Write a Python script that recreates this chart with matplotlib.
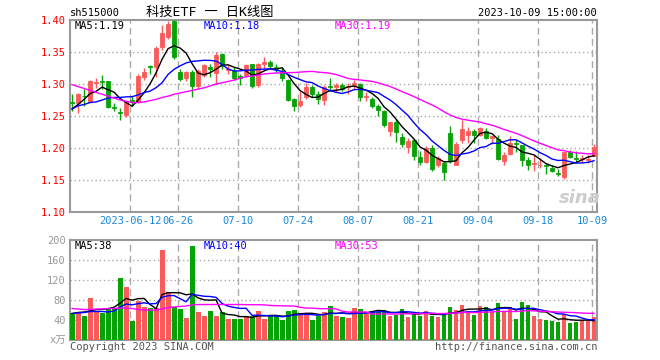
import matplotlib
matplotlib.use('Agg')
import matplotlib.pyplot as plt
import numpy as np
import pandas as pd

# daily OHLC for sh515000, 2023-05-29 .. 2023-10-09 (88 trading days)
opens = [1.272, 1.270, 1.282, 1.272, 1.302, 1.305, 1.304, 1.264, 1.256, 1.251,
         1.275, 1.272, 1.311, 1.328, 1.326, 1.358, 1.373, 1.398, 1.318, 1.309,
         1.318, 1.297, 1.314, 1.326, 1.317, 1.347, 1.322, 1.321, 1.313, 1.314,
         1.331, 1.299, 1.332, 1.334, 1.326, 1.318, 1.307, 1.276, 1.267, 1.279,
         1.296, 1.285, 1.275, 1.297, 1.296, 1.298, 1.295, 1.299, 1.300, 1.279,
         1.276, 1.266, 1.258, 1.226, 1.240, 1.217, 1.201, 1.212, 1.186, 1.178,
         1.200, 1.173, 1.176, 1.224, 1.174, 1.213, 1.221, 1.226, 1.221, 1.226,
         1.215, 1.214, 1.180, 1.190, 1.208, 1.204, 1.182, 1.175, 1.173, 1.173,
         1.169, 1.161, 1.155, 1.193, 1.184, 1.183, 1.182, 1.188]
highs = [1.284, 1.286, 1.292, 1.306, 1.310, 1.314, 1.305, 1.270, 1.262, 1.274,
         1.281, 1.315, 1.325, 1.329, 1.360, 1.392, 1.398, 1.400, 1.323, 1.320,
         1.322, 1.323, 1.331, 1.331, 1.350, 1.349, 1.330, 1.326, 1.315, 1.332,
         1.332, 1.333, 1.342, 1.337, 1.331, 1.327, 1.308, 1.278, 1.289, 1.301,
         1.298, 1.289, 1.298, 1.309, 1.301, 1.302, 1.302, 1.307, 1.301, 1.288,
         1.279, 1.268, 1.259, 1.240, 1.246, 1.224, 1.216, 1.214, 1.196, 1.203,
         1.205, 1.188, 1.180, 1.235, 1.209, 1.244, 1.233, 1.229, 1.233, 1.232,
         1.219, 1.220, 1.194, 1.218, 1.212, 1.205, 1.186, 1.190, 1.185, 1.177,
         1.174, 1.167, 1.194, 1.197, 1.195, 1.189, 1.189, 1.207]
lows = [1.258, 1.254, 1.266, 1.272, 1.294, 1.292, 1.262, 1.258, 1.243, 1.248,
        1.266, 1.270, 1.306, 1.315, 1.311, 1.353, 1.370, 1.339, 1.305, 1.305,
        1.280, 1.292, 1.311, 1.311, 1.300, 1.323, 1.315, 1.306, 1.298, 1.311,
        1.294, 1.296, 1.323, 1.325, 1.318, 1.305, 1.273, 1.258, 1.264, 1.277,
        1.279, 1.268, 1.267, 1.289, 1.288, 1.289, 1.285, 1.292, 1.274, 1.274,
        1.263, 1.250, 1.233, 1.219, 1.209, 1.202, 1.192, 1.182, 1.174, 1.176,
        1.164, 1.171, 1.150, 1.176, 1.173, 1.208, 1.208, 1.208, 1.219, 1.214,
        1.206, 1.182, 1.174, 1.189, 1.193, 1.172, 1.166, 1.164, 1.168, 1.159,
        1.162, 1.156, 1.152, 1.185, 1.178, 1.177, 1.177, 1.187]
closes = [1.270, 1.285, 1.281, 1.304, 1.303, 1.303, 1.264, 1.262, 1.255, 1.272,
          1.273, 1.312, 1.319, 1.326, 1.357, 1.380, 1.394, 1.342, 1.308, 1.318,
          1.297, 1.320, 1.329, 1.324, 1.346, 1.328, 1.323, 1.310, 1.310, 1.330,
          1.297, 1.331, 1.334, 1.328, 1.325, 1.309, 1.275, 1.266, 1.274, 1.295,
          1.285, 1.277, 1.296, 1.295, 1.298, 1.292, 1.297, 1.302, 1.280, 1.281,
          1.266, 1.259, 1.236, 1.240, 1.225, 1.207, 1.211, 1.187, 1.178, 1.200,
          1.167, 1.185, 1.162, 1.179, 1.207, 1.230, 1.226, 1.220, 1.231, 1.216,
          1.219, 1.183, 1.189, 1.208, 1.206, 1.182, 1.174, 1.176, 1.174, 1.172,
          1.164, 1.160, 1.193, 1.186, 1.183, 1.185, 1.183, 1.202]
# volume in 万
volumes = [54, 57, 49, 85, 59, 55, 65, 64, 125, 107,
           38, 79, 67, 64, 65, 180, 97, 67, 63, 45,
           189, 57, 48, 59, 48, 57, 43, 43, 43, 48,
           48, 59, 43, 48, 48, 41, 59, 61, 53, 53,
           41, 49, 57, 69, 49, 47, 45, 65, 63, 52,
           59, 57, 61, 48, 50, 63, 47, 52, 49, 59,
           49, 47, 50, 67, 61, 71, 59, 51, 69, 67,
           57, 75, 57, 67, 43, 77, 71, 49, 43, 41,
           38, 37, 53, 34, 36, 38, 38, 47]

# moving-average values before enough days are in the window
ma5_head = [1.261, 1.268, 1.276, 1.285]
ma10_head = [1.261, 1.266, 1.268, 1.271, 1.272, 1.275, 1.278, 1.279, 1.279]
ma30_head = [1.299, 1.296, 1.293, 1.290, 1.287, 1.284, 1.281, 1.278, 1.275, 1.273,
             1.271, 1.271, 1.272, 1.274, 1.276, 1.279, 1.281, 1.284, 1.286, 1.288,
             1.290, 1.292, 1.294, 1.297, 1.300, 1.302, 1.304, 1.306, 1.309]
vma5_head = [53, 55, 56, 58]
vma10_head = [53, 54, 55, 57, 57, 57, 56, 58, 66]
vma30_head = [63, 62, 61, 61, 62, 62, 63, 63, 64, 64, 63, 61, 60, 60, 60,
              62, 65, 66, 67, 68, 70, 71, 71, 71, 71, 71, 71, 71, 71]

tick_idx = [10, 18, 28, 38, 48, 58, 68, 78, 87]
tick_labels = ['2023-06-12', '06-26', '07-10', '07-24', '08-07', '08-21', '09-04', '09-18', '10-09']
price_ticks = [1.10, 1.15, 1.20, 1.25, 1.30, 1.35, 1.40]
vol_ticks = [40, 80, 120, 160, 200]


def moving_avg(vals, n, head):
    s = pd.Series(vals, dtype=float).rolling(n).mean().to_numpy()
    s[:n - 1] = head
    return s


RED = '#fa5a5a'
GREEN = '#06a306'
GRID = '#aaaaaa'
MONO = ['DejaVu Sans Mono', 'Noto Sans CJK SC']

W, H = 660, 360
fig = plt.figure(figsize=(6.6, 3.6), dpi=100)
ax = fig.add_axes([70 / W, 1 - 212 / H, 527 / W, 192 / H])
axv = fig.add_axes([70 / W, 1 - 340 / H, 527 / W, 100 / H])

x = np.arange(len(closes))
o = np.array(opens)
c = np.array(closes)
up = c >= o
colors = np.where(up, RED, GREEN)

# candles
ax.vlines(x, lows, highs, colors=colors, linewidth=1, zorder=3)
body_bottom = np.minimum(o, c)
body_h = np.maximum(np.abs(c - o), 0.0009)
ax.bar(x, body_h, bottom=body_bottom, width=0.7, color=colors,
       edgecolor=colors, linewidth=0.6, zorder=4)

ax.plot(x, moving_avg(closes, 5, ma5_head), color='black', lw=1, zorder=5)
ax.plot(x, moving_avg(closes, 10, ma10_head), color='blue', lw=1, zorder=5)
ax.plot(x, moving_avg(closes, 30, ma30_head), color='magenta', lw=1, zorder=5)

# volume
axv.bar(x, volumes, width=0.82, color=colors, linewidth=0, zorder=3)
axv.plot(x, moving_avg(volumes, 5, vma5_head), color='black', lw=1, zorder=4)
axv.plot(x, moving_avg(volumes, 10, vma10_head), color='blue', lw=1, zorder=4)
axv.plot(x, moving_avg(volumes, 30, vma30_head), color='magenta', lw=1, zorder=4)

for a in (ax, axv):
    a.set_xlim(-0.35, 87.5)
    for s in a.spines.values():
        s.set_color('#999999')
        s.set_linewidth(1.5)
    for t in tick_idx:
        a.axvline(t - 0.33, color=GRID, lw=1, dashes=(5, 3), zorder=1)
    a.tick_params(length=0)

ax.set_ylim(1.10, 1.40)
ax.set_yticks(price_ticks)
ax.set_yticklabels([f'{v:.2f}' for v in price_ticks], color='red', family=MONO, fontsize=7.5)
for v in price_ticks[1:-1]:
    ax.axhline(v, color=GRID, lw=1, dashes=(1, 2), zorder=1)
ax.set_xticks([t - 0.33 for t in tick_idx])
ax.set_xticklabels(tick_labels, color='#1a88d8', family=MONO, fontsize=7.5)
ax.tick_params(axis='y', pad=3)
ax.tick_params(axis='x', pad=3)

axv.set_ylim(0, 200)
axv.set_yticks([0] + vol_ticks)
axv.set_yticklabels(['x万'] + [str(v) for v in vol_ticks], color='#999999', family=MONO, fontsize=7.5)
axv.tick_params(axis='y', pad=3)
axv.set_xticks([])
for v in vol_ticks[:-1]:
    axv.axhline(v, color=GRID, lw=1, dashes=(1, 2), zorder=1)


def ftext(px, py, s, **kw):
    fig.text(px / W, 1 - py / H, s, family=MONO, va='center', **kw)


ftext(70, 13, 'sh515000', fontsize=7.5)
ftext(210, 12, '科技ETF 一 日K线图', fontsize=9.5, ha='center')
ftext(597, 13, '2023-10-09 15:00:00', fontsize=7.5, ha='right')
ftext(75, 26, 'MA5:1.19', fontsize=7.5, color='black')
ftext(204, 26, 'MA10:1.18', fontsize=7.5, color='blue')
ftext(335, 26, 'MA30:1.19', fontsize=7.5, color='magenta')
ftext(75, 246, 'MA5:38', fontsize=7.5, color='black')
ftext(204, 246, 'MA10:40', fontsize=7.5, color='blue')
ftext(335, 246, 'MA30:53', fontsize=7.5, color='magenta')
ftext(70, 347, 'Copyright 2023 SINA.COM', fontsize=7.5, color='#555555')
ftext(597, 347, 'http://finance.sina.com.cn', fontsize=7.5, color='#555555', ha='right')
fig.text(580 / W, 1 - 198 / H, 'sina', fontsize=13, fontweight='bold', style='italic',
         color='#cccccc', ha='center', va='center', family='DejaVu Sans')

fig.savefig('out.png', dpi=100)
